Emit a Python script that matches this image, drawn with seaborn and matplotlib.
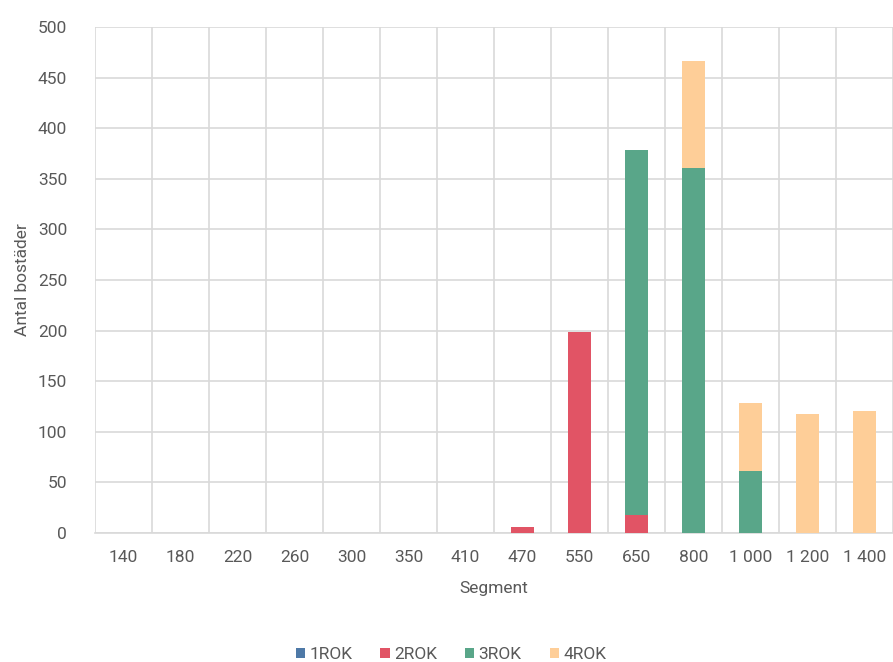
import matplotlib
matplotlib.use("Agg")
import matplotlib.pyplot as plt
from matplotlib.patches import Patch
import numpy as np
import pandas as pd
import seaborn as sns

segments = ["140", "180", "220", "260", "300", "350", "410", "470", "550", "650", "800", "1 000", "1 200", "1 400"]
rok1 = [0, 0, 0, 0, 0, 0, 0, 0, 0, 0, 0, 0, 0, 0]
rok2 = [0, 0, 0, 0, 0, 0, 0, 6, 199, 18, 0, 0, 0, 0]
rok3 = [0, 0, 0, 0, 0, 0, 0, 0, 0, 360, 361, 61, 0, 0]
rok4 = [0, 0, 0, 0, 0, 0, 0, 0, 0, 0, 105, 67, 118, 121]

series_names = ["1ROK", "2ROK", "3ROK", "4ROK"]
series_colors = ["#4E79A7", "#E15465", "#59A689", "#FECE98"]
y_ticks = [0, 50, 100, 150, 200, 250, 300, 350, 400, 450, 500]

sns.set_theme(style="white")
plt.rcParams["font.family"] = ["Roboto", "DejaVu Sans"]

fig = plt.figure(figsize=(8.93, 6.62), dpi=100)
ax = fig.add_axes([0.1064, 0.1949, 0.8936, 0.7643])

text_col = "#595959"
grid_col = "#D9D9D9"

bottom = np.zeros(len(segments))
for name, vals, col in zip(series_names, [rok1, rok2, rok3, rok4], series_colors):
    df = pd.DataFrame({"Segment": segments, "v": vals})
    sns.barplot(data=df, x="Segment", y="v", order=segments, color=col,
                bottom=bottom.copy(), width=0.42, ax=ax, saturation=1,
                linewidth=0, errorbar=None, zorder=3)
    bottom += np.array(vals, dtype=float)

ax.set_xlim(-0.5, len(segments) - 0.5)
ax.set_ylim(0, 500)
ax.set_yticks(y_ticks)
ax.set_xticks(range(len(segments)))
ax.set_xticklabels(segments)
ax.set_xticks(np.arange(-0.5, len(segments), 1.0), minor=True)

ax.grid(False)
ax.yaxis.grid(True, color=grid_col, linewidth=1.2, zorder=0)
ax.xaxis.grid(True, which="minor", color=grid_col, linewidth=1.2, zorder=0)
ax.set_axisbelow(True)

for s in ["top", "right", "left"]:
    ax.spines[s].set_visible(False)
ax.spines["bottom"].set_color(grid_col)
ax.spines["bottom"].set_linewidth(1.2)

ax.tick_params(axis="both", which="major", length=0, labelsize=12.5, labelcolor=text_col)
ax.tick_params(axis="x", which="minor", length=0)
ax.tick_params(axis="y", pad=20)
ax.tick_params(axis="x", pad=12)

ax.set_xlabel("Segment", fontsize=12.5, color=text_col, labelpad=12)
ax.set_ylabel("Antal bostäder", fontsize=12.5, color=text_col, labelpad=6)

handles = [Patch(facecolor=c, edgecolor="none", label=n) for n, c in zip(series_names, series_colors)]
fig.legend(handles=handles, loc="center", bbox_to_anchor=(0.505, 0.011), ncol=4,
           frameon=False, fontsize=12.5, labelcolor=text_col, handlelength=0.55,
           handleheight=0.55, handletextpad=0.25, columnspacing=1.6)

fig.savefig("out.png", dpi=100)
